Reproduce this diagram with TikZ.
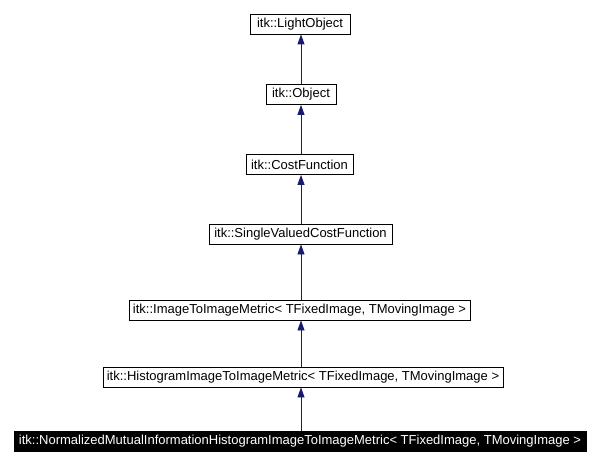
\documentclass[tikz,border=0pt]{standalone}
\usepackage{fontspec}
\setmainfont{Liberation Sans}
\usetikzlibrary{arrows.meta}
\definecolor{edgeblue}{HTML}{191970}
\begin{document}
\begin{tikzpicture}[x=1pt,y=-1pt,
  cls/.style={draw=black,line width=0.8pt,fill=white,minimum height=20pt,inner sep=0pt,font=\fontsize{13}{15}\selectfont},
  cur/.style={cls,fill=black,text=white},
  inh/.style={draw=edgeblue,line width=0.8pt,-{Triangle[length=10pt,width=7pt]}}]
\useasboundingbox (0,0) rectangle (601,465);
\node[cls,minimum width=100pt] (a) at (300,24) {itk::LightObject};
\node[cls,minimum width=70pt] (b) at (301,94.5) {itk::Object};
\node[cls,minimum width=107pt] (c) at (299.5,164.5) {itk::CostFunction};
\node[cls,minimum width=183pt] (d) at (300.5,234) {itk::SingleValuedCostFunction};
\node[cls,minimum width=341pt] (e) at (299.5,310) {itk::ImageToImageMetric< TFixedImage, TMovingImage >};
\node[cls,minimum width=400pt] (f) at (303,377) {itk::HistogramImageToImageMetric< TFixedImage, TMovingImage >};
\node[cur,minimum width=572pt] (g) at (300,441) {itk::NormalizedMutualInformationHistogramImageToImageMetric< TFixedImage, TMovingImage >};
\draw[inh] (b.north -| 301,0) -- (a.south -| 301,0);
\draw[inh] (c.north -| 301,0) -- (b.south -| 301,0);
\draw[inh] (d.north -| 301,0) -- (c.south -| 301,0);
\draw[inh] (e.north -| 301,0) -- (d.south -| 301,0);
\draw[inh] (f.north -| 301,0) -- (e.south -| 301,0);
\draw[inh] (g.north -| 301,0) -- (f.south -| 301,0);
\end{tikzpicture}
\end{document}
